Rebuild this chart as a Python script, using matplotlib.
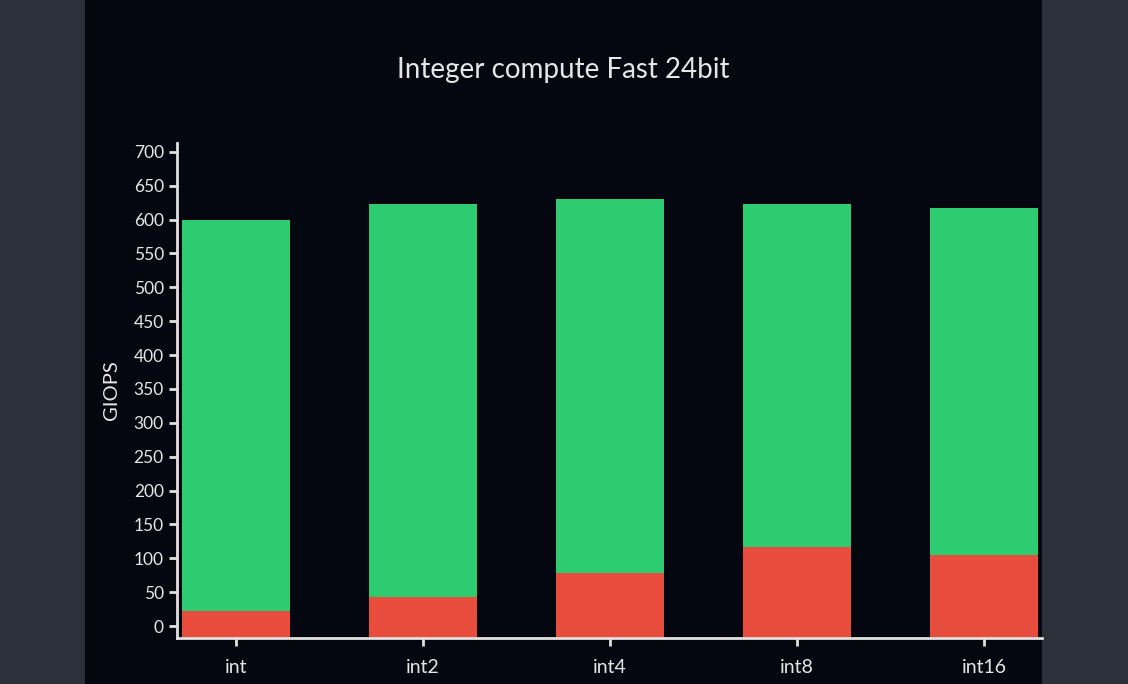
import matplotlib
matplotlib.use("Agg")
import matplotlib.pyplot as plt
from matplotlib.patches import Rectangle
import numpy as np

categories = ["int", "int2", "int4", "int8", "int16"]
red_values = [22, 43, 78, 117, 105]
green_values = [578, 580, 553, 506, 512]
y_ticks = list(range(0, 701, 50))
title = "Integer compute Fast 24bit"
y_label = "GIOPS"

plt.rcParams['font.family'] = ['Lato', 'DejaVu Sans']
W, H = 1128, 684
fig = plt.figure(figsize=(W / 100, H / 100), dpi=100, facecolor="#2b303a")
fig.patches.append(Rectangle((85 / W, 0), (1042 - 85) / W, 1, transform=fig.transFigure,
                             facecolor="#04070f", edgecolor="none", zorder=-5))

ax = fig.add_axes([177 / W, (H - 638) / H, (1042 - 177) / W, (638 - 143) / H])
ax.set_zorder(2)
ax.set_facecolor("none")
x = np.arange(len(categories))
txt = "#e6e6e6"
ymin, ymax = -17.7, 713
red = np.array(red_values, dtype=float)
green = np.array(green_values, dtype=float)
# bars are drawn from the bottom of the plotting area, as in the original
ax.bar(x, red - ymin, width=0.58, bottom=ymin, color="#e74c3c", zorder=2)
ax.bar(x, green, width=0.58, bottom=red, color="#2ecc71", zorder=2)

ax.set_xlim(-0.316, 4.31)
ax.set_ylim(ymin, ymax)
ax.set_xticks(x)
ax.set_xticklabels(categories)
ax.set_yticks(y_ticks)
for s in ["top", "right"]:
    ax.spines[s].set_visible(False)
for s in ["left", "bottom"]:
    ax.spines[s].set_color("#e0e0e0")
    ax.spines[s].set_linewidth(2)
ax.tick_params(axis="both", colors="#e0e0e0", labelcolor=txt, length=6, width=2)
ax.tick_params(axis="y", labelsize=12.5)
ax.tick_params(axis="x", labelsize=14, pad=9)
ax.set_ylabel(y_label, color=txt, fontsize=14.5, labelpad=10)
fig.text((85 + 1042) / 2 / W, 1 - 70 / H, title, color=txt, fontsize=20, ha="center", va="center")

fig.savefig("out.png", dpi=100, facecolor=fig.get_facecolor())
